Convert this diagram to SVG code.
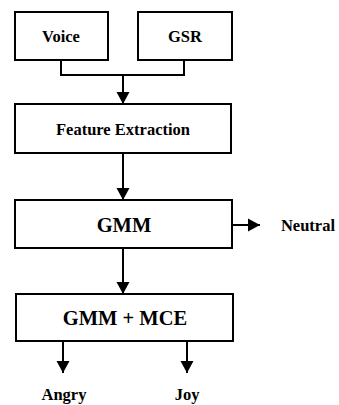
<svg xmlns="http://www.w3.org/2000/svg" width="339" height="405" viewBox="0 0 339 405">
<defs>
<marker id="ah" markerWidth="12" markerHeight="18" refX="12" refY="9" orient="auto" markerUnits="userSpaceOnUse">
<path d="M0,2.5 L12,9 L0,15.5 Z" fill="#000"/>
</marker>
<style>
.box{fill:#fff;stroke:#000;stroke-width:2}
.t{font-family:"Liberation Serif",serif;font-weight:bold;fill:#000;text-anchor:middle}
.s{font-size:16.5px}
.b{font-size:20.5px}
.c{fill:none;stroke:#000;stroke-width:2}
</style>
</defs>
<rect width="339" height="405" fill="#fff"/>
<g id="voice"><rect class="box" x="15" y="12" width="93" height="48"/><text class="t s" x="61" y="42">Voice</text></g>
<g id="gsr"><rect class="box" x="138" y="12" width="94" height="48"/><text class="t s" x="185" y="42">GSR</text></g>
<g id="feature"><rect class="box" x="15" y="104" width="216" height="49"/><text class="t s" x="123" y="135">Feature Extraction</text></g>
<g id="gmm"><rect class="box" x="15" y="200" width="217" height="48"/><text class="t b" x="124" y="232">GMM</text></g>
<g id="gmmmce"><rect class="box" x="16" y="294" width="217" height="47"/><text class="t b" x="125" y="325">GMM + MCE</text></g>
<g id="neutral"><text class="t s" x="308" y="231">Neutral</text></g>
<g id="angry"><text class="t s" x="64" y="400">Angry</text></g>
<g id="joy"><text class="t s" x="187" y="400">Joy</text></g>
<g id="connectors">
<path class="c" d="M61,60 V75 H184 V60"/>
<path class="c" d="M123,75 V104" marker-end="url(#ah)"/>
<path class="c" d="M123,153 V200" marker-end="url(#ah)"/>
<path class="c" d="M123,248 V294" marker-end="url(#ah)"/>
<path class="c" d="M232,225 H260" marker-end="url(#ah)"/>
<path class="c" d="M63,341 V373" marker-end="url(#ah)"/>
<path class="c" d="M187,341 V373" marker-end="url(#ah)"/>
</g>
</svg>
